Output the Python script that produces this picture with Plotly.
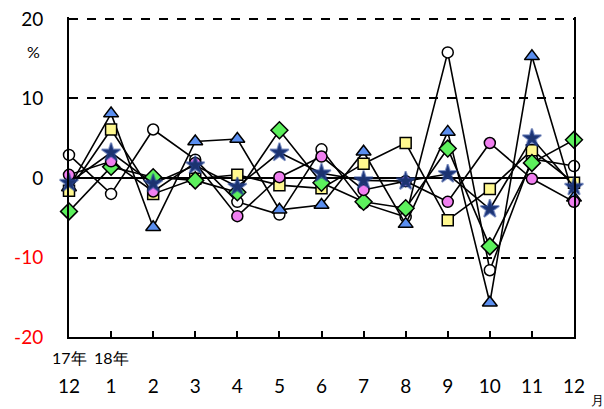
import plotly.graph_objects as go

months = ["12", "1", "2", "3", "4", "5", "6", "7", "8", "9", "10", "11", "12"]
x_pos = list(range(len(months)))

white_circle = [2.9, -2.0, 6.1, 2.3, -3.0, -4.6, 3.6, -3.2, -4.9, 15.8, -11.6, 2.4, 1.5]
blue_triangle = [-1.2, 8.1, -6.2, 4.6, 4.9, -4.0, -3.4, 3.3, -5.8, 5.8, -15.7, 15.3, -2.5]
yellow_square = [-1.6, 6.1, -2.0, -0.1, 0.4, -0.9, -1.3, 1.8, 4.4, -5.3, -1.4, 3.5, -0.6]
green_diamond = [-4.2, 1.4, 0.1, -0.3, -1.8, 6.0, -0.6, -3.0, -3.8, 3.7, -8.6, 1.9, 4.8]
pink_circle = [0.4, 2.1, -1.7, 1.9, -4.8, 0.1, 2.7, -1.5, -0.4, -3.0, 4.4, -0.1, -3.0]
navy_star = [-0.6, 3.2, -0.7, 1.6, -1.1, 3.2, 0.6, -0.3, -0.4, 0.5, -3.9, 5.0, -1.1]

y_ticks = [-20, -10, 0, 10, 20]
y_ticktext = ['<span style="color:#ff0000">-20</span>', '<span style="color:#ff0000">-10</span>', '0', '10', '20']

series = [
    ("white", white_circle, "circle", "#ffffff", 11, 1.5),
    ("blue", blue_triangle, "triangle-up", "#5b8ff0", 13, 1.5),
    ("yellow", yellow_square, "square", "#fff88f", 11, 1.5),
    ("green", green_diamond, "diamond", "#5cf05c", 13, 1.5),
    ("pink", pink_circle, "circle", "#f07ff0", 11, 1.5),
    ("star", navy_star, "star", "#1c3370", 14, 0),
]

fig = go.Figure()
for name, vals, sym, col, size, lw in series:
    fig.add_trace(go.Scatter(
        x=x_pos, y=vals, mode="lines+markers", name=name,
        line=dict(color="black", width=1.6),
        marker=dict(symbol=sym, color=col, size=size,
                    line=dict(color="black" if lw else "rgba(40,70,150,0.55)", width=lw if lw else 2)),
        cliponaxis=False, showlegend=False,
    ))

# body margin is removed by post_script, so page pixels == figure pixels
W, H = 604, 409
Y_TOP = 20.25
plot_left, plot_right, plot_bottom = 69, 574, 337
y20_px = 19
ppu = (plot_bottom - y20_px) / 40.0
plot_top = y20_px - (Y_TOP - 20) * ppu

L = plot_left
T = plot_top
R = W - plot_right
B = H - plot_bottom

fig.update_layout(
    width=W, height=H,
    margin=dict(l=L, r=R, t=T, b=B, autoexpand=False),
    paper_bgcolor="white", plot_bgcolor="white",
    font=dict(family="Lato, 'Open Sans', sans-serif", color="black"),
)
fig.update_xaxes(
    range=[0, 12], tickvals=x_pos, ticktext=months,
    showgrid=False, zeroline=False, automargin=False,
    showline=True, linecolor="black", linewidth=2,
    ticks="inside", ticklen=6, tickwidth=1.5, tickcolor="black",
    tickfont=dict(size=19), ticklabelstandoff=31, ticklabeloverflow="allow",
)
fig.update_yaxes(
    range=[-20, Y_TOP], tickvals=y_ticks, ticktext=y_ticktext,
    showgrid=True, gridcolor="black", gridwidth=1.5, griddash="dash",
    zeroline=True, zerolinecolor="black", zerolinewidth=2, automargin=False,
    showline=True, linecolor="black", linewidth=2, mirror=True,
    ticks="", tickfont=dict(size=19), ticklabelstandoff=20, ticklabeloverflow="allow",
)

pw, ph = plot_right - plot_left, plot_bottom - plot_top

def px2paper(px, py):
    return (px - plot_left) / pw, (plot_bottom - py) / ph

for txt, xv in (("17年", 0), ("18年", 1)):
    _, yp = px2paper(0, 357)
    fig.add_annotation(x=xv, y=yp, xref="x", yref="paper", text=txt, showarrow=False,
                       xanchor="center", yanchor="middle", font=dict(size=16))
xp, yp = px2paper(33, 52)
fig.add_annotation(x=xp, y=yp, xref="paper", yref="paper", text="%", showarrow=False,
                   xanchor="center", yanchor="middle", font=dict(size=16))
xp, yp = px2paper(597, 400)
fig.add_annotation(x=xp, y=yp, xref="paper", yref="paper", text="月", showarrow=False,
                   xanchor="center", yanchor="middle", font=dict(size=13))

fig.write_html(
    "out.html",
    config={"displayModeBar": False},
    post_script="document.body.style.margin='0px';document.body.style.overflow='hidden';",
)
